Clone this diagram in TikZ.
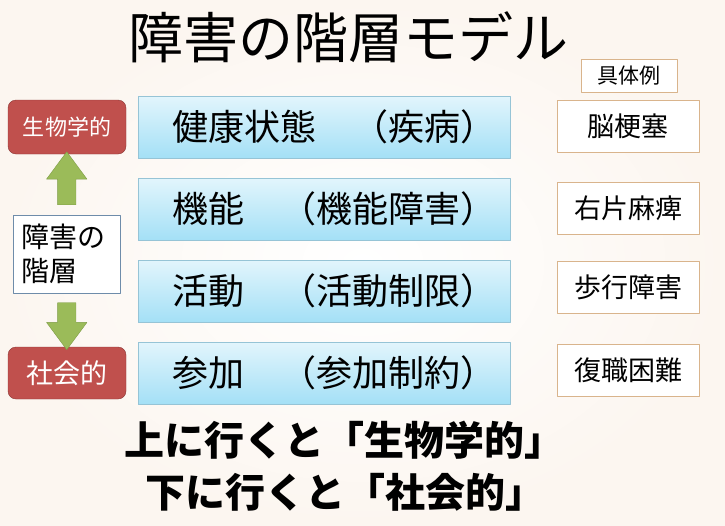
\documentclass[tikz,border=0pt]{standalone}
\usepackage{fontspec}
\setmainfont{Noto Sans CJK JP}
\usetikzlibrary{shapes.arrows,calc}
\definecolor{bluetop}{RGB}{226,245,252}
\definecolor{bluebot}{RGB}{164,224,246}
\definecolor{blueline}{RGB}{150,196,214}
\definecolor{redfill}{RGB}{192,80,77}
\definecolor{redline}{RGB}{140,56,54}
\definecolor{greenfill}{RGB}{155,187,89}
\definecolor{greenline}{RGB}{126,156,70}
\definecolor{tanline}{RGB}{217,180,140}
\definecolor{hierline}{RGB}{110,140,170}
\definecolor{bgwarm}{RGB}{252,246,240}
\begin{document}
\begin{tikzpicture}[x=1pt,y=1pt,line join=round]
    \tikzset{layer box/.style={draw=blueline,top color=bluetop,bottom color=bluebot,minimum width=372,minimum height=62,inner sep=0},
        layer text/.style={font=\fontsize{36}{40}\selectfont,xshift=10},
        example box/.style={draw=tanline,fill=white,minimum width=142,minimum height=52,inner sep=0,font=\fontsize{27}{30}\selectfont},
        side box/.style={draw=redline,fill=redfill,rounded corners=8,minimum width=118,text=white,inner sep=0},
        green arrow/.style={single arrow,draw=greenline,fill=greenfill,inner xsep=0,inner ysep=9,single arrow head extend=11,single arrow tip angle=73}}
    \useasboundingbox (0,0) rectangle (725,-525);
    \shade[inner color=white,outer color=bgwarm] (0,0) rectangle (725,-525);
    \node[font=\fontsize{55}{60}\selectfont] (title) at (348,-37) {障害の階層モデル};
    % layers
    \node[layer box] (health) at (324,-127) {};
    \node[layer box] (function) at (324,-209) {};
    \node[layer box] (activity) at (324,-291) {};
    \node[layer box] (particip) at (324,-373) {};
    \foreach \n/\a/\b in {health/健康状態/（疾病）,function/機能/（機能障害）,activity/活動/（活動制限）,particip/参加/（参加制約）}
        \node[layer text] at (\n) {\makebox[324pt]{\a\hfill\b}};
    % examples
    \node[draw=tanline,fill=white,minimum width=96,minimum height=33,inner sep=0,font=\fontsize{21}{24}\selectfont] (exhead) at (629,-75.5) {具体例};
    \node[example box] (ex1) at (628,-126) {脳梗塞};
    \node[example box] (ex2) at (628,-208) {右片麻痺};
    \node[example box] (ex3) at (628,-287) {歩行障害};
    \node[example box] (ex4) at (628,-370.5) {復職困難};
    % left side
    \node[side box,minimum height=54,font=\fontsize{22}{26}\selectfont] (bio) at (67,-127) {生物学的};
    \node[side box,minimum height=52,font=\fontsize{27}{30}\selectfont] (social) at (67,-373) {社会的};
    \node[draw=hierline,fill=white,minimum width=107,minimum height=78,text width=91,inner xsep=8,align=left,font=\fontsize{28}{34}\selectfont] (hier) at (66.5,-254) {障害の\\階層};
    \node[green arrow,minimum height=53,rotate=90] (up) at ($(bio.south)!0.5!(hier.north)$) {};
    \node[green arrow,minimum height=47,rotate=-90] (down) at ($(hier.south)!0.5!(social.north)$) {};
    % bottom
    \node[font=\fontsize{40}{44}\selectfont\bfseries] (line1) at (344,-440) {上に行くと「生物学的」};
    \node[font=\fontsize{40}{44}\selectfont\bfseries] (line2) at (345,-492) {下に行くと「社会的」};
\end{tikzpicture}
\end{document}
